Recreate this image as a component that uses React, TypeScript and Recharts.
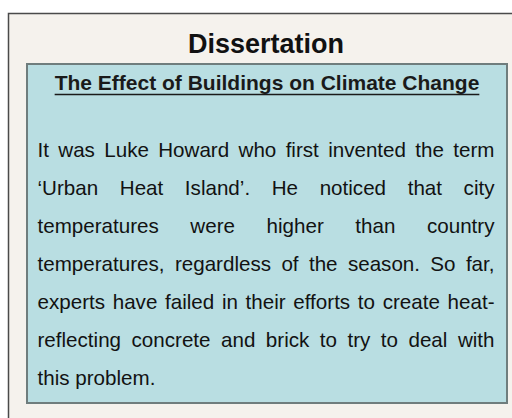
import React from "react";
import { ComposedChart, Customized } from "recharts";

// page content
const heading = "Dissertation";
const subtitle = "The Effect of Buildings on Climate Change";
const bodyLines = [
  "It was Luke Howard who first invented the term",
  "\u2018Urban Heat Island\u2019. He noticed that city",
  "temperatures were higher than country",
  "temperatures, regardless of the season. So far,",
  "experts have failed in their efforts to create heat-",
  "reflecting concrete and brick to try to deal with",
  "this problem.",
];

const FONT = "'Liberation Sans', Arial, sans-serif";
const W = 512;
const H = 418;

let ctx: CanvasRenderingContext2D | null = null;
const textWidth = (s: string, font: string) => {
  if (!ctx) ctx = document.createElement("canvas").getContext("2d");
  if (!ctx) return s.length * 10;
  ctx.font = font;
  return ctx.measureText(s).width;
};

const Sheet = () => {
  const inner = { x: 27, y: 64, w: 480, h: 339 };
  const cx = inner.x + inner.w / 2;
  const left = 37.5;
  const right = 494.5;
  const bodySize = 20.6;
  const bodyFont = `${bodySize}px ${FONT}`;
  const subSize = 21;
  const subW = textWidth(subtitle, `bold ${subSize}px ${FONT}`);

  return (
    <g>
      {/* outer page */}
      <rect x={8.5} y={13.5} width={530} height={430} fill="#f5f2ed" stroke="#4a4a4a" strokeWidth={1.5} />
      {/* blue panel */}
      <rect x={inner.x} y={inner.y} width={inner.w} height={inner.h} fill="#b9dee2" stroke="#6f7d7d" strokeWidth={2} />

      <text x={cx - 1} y={53} textAnchor="middle" fontFamily={FONT} fontWeight="bold" fontSize={27} fill="#111">
        {heading}
      </text>

      <text x={cx} y={90} textAnchor="middle" fontFamily={FONT} fontWeight="bold" fontSize={subSize} fill="#1a1a1a">
        {subtitle}
      </text>
      <line x1={cx - subW / 2} x2={cx + subW / 2} y1={94.5} y2={94.5} stroke="#1a1a1a" strokeWidth={1.6} />

      {bodyLines.map((line, i) => {
        const y = 157 + i * 38;
        const words = line.split(" ");
        const last = i === bodyLines.length - 1;
        const widths = words.map((w) => textWidth(w, bodyFont));
        const total = widths.reduce((a, b) => a + b, 0);
        const gap = last ? textWidth(" ", bodyFont) : (right - left - total) / (words.length - 1);
        let x = left;
        return words.map((w, j) => {
          const el = (
            <text key={`${i}-${j}`} x={x} y={y} fontFamily={FONT} fontSize={bodySize} fill="#121212">
              {w}
            </text>
          );
          x += widths[j] + gap;
          return el;
        });
      })}
    </g>
  );
};

export default function App() {
  return (
    <div style={{ position: "fixed", left: 0, top: 0, width: W, height: H, overflow: "hidden", background: "#fff" }}>
      <ComposedChart width={W} height={H} data={[]} margin={{ top: 0, right: 0, bottom: 0, left: 0 }}>
        <Customized component={Sheet} />
      </ComposedChart>
    </div>
  );
}
